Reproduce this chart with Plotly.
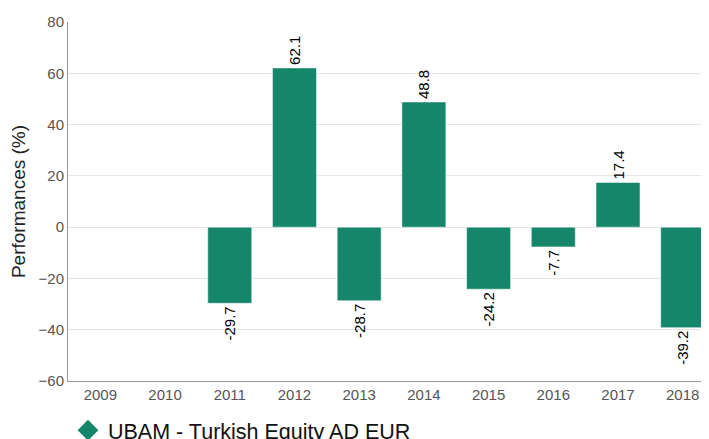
import plotly.graph_objects as go

years = ["2009", "2010", "2011", "2012", "2013", "2014", "2015", "2016", "2017", "2018"]
performance = [None, None, -29.7, 62.1, -28.7, 48.8, -24.2, -7.7, 17.4, -39.2]
labels = ["" if v is None else f"{v:.1f}" for v in performance]
series_name = "UBAM - Turkish Equity AD EUR"
color = "#15866A"

fig = go.Figure()
fig.add_trace(go.Bar(
    x=years, y=performance, text=labels, textposition="outside",
    textangle=-90, cliponaxis=False,
    textfont=dict(size=15, color="#000000"),
    marker=dict(color=color, line=dict(color="rgba(255,255,255,0.5)", width=1)),
    width=0.68, showlegend=False, hoverinfo="x+y",
))
fig.add_trace(go.Scatter(
    x=[None], y=[None], mode="markers", name=series_name,
    marker=dict(symbol="diamond", size=20, color=color),
))
fig.update_layout(
    width=709, height=439,
    margin=dict(l=60, r=0, t=14, b=66, autoexpand=False),
    paper_bgcolor="white", plot_bgcolor="white",
    font=dict(family="Liberation Sans, Arial, sans-serif", color="#555555", size=15),
    uniformtext=dict(minsize=15, mode="show"),
    xaxis=dict(
        type="category", range=[-0.5, 9.53], automargin=False,
        showline=True, linecolor="#999999", linewidth=1,
        showgrid=False, ticks="", tickfont=dict(size=15, color="#555555"),
    ),
    yaxis=dict(
        range=[-60, 80], dtick=20, tick0=0, automargin=False,
        showline=True, linecolor="#999999", linewidth=1,
        gridcolor="#e6e6e6", zeroline=True, zerolinecolor="#e6e6e6", zerolinewidth=1,
        ticks="", tickfont=dict(size=15, color="#555555"),
        title=dict(text="Performances (%)", font=dict(size=19, color="#222222"), standoff=18),
    ),
    legend=dict(
        orientation="h", x=0.0, xanchor="left", y=-0.137, yanchor="middle",
        font=dict(size=21.5, color="#111111"), itemsizing="trace",
        bgcolor="rgba(0,0,0,0)",
    ),
    bargap=0.32,
)
fig.write_html("out.html")
